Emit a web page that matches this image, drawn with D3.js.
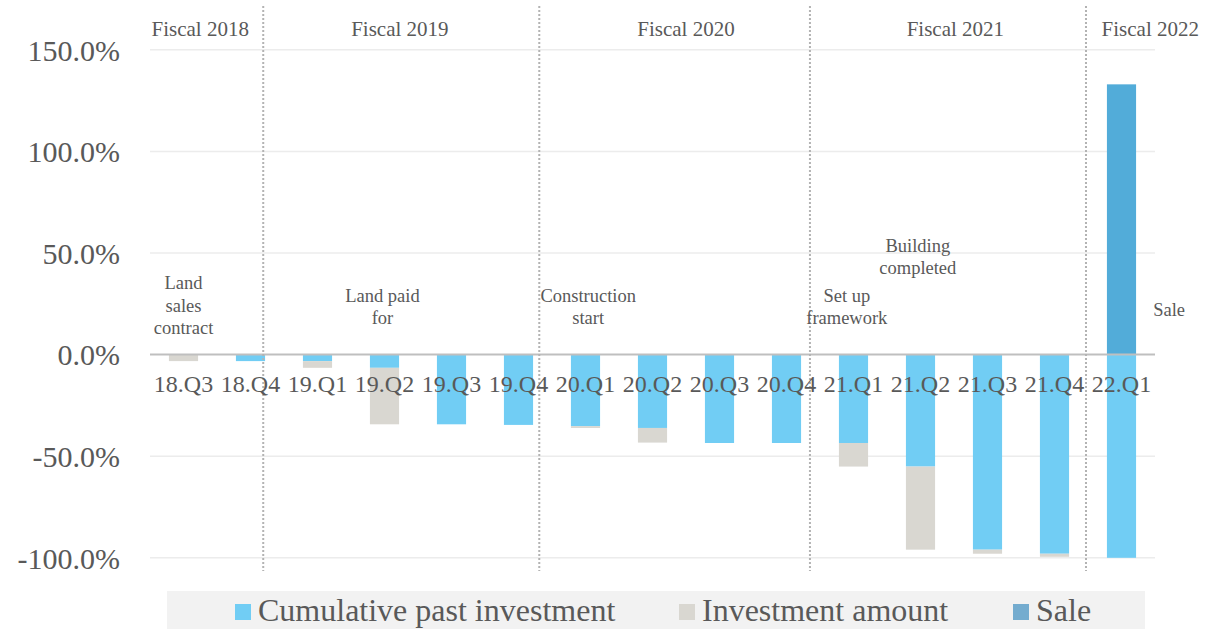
<!DOCTYPE html>
<html>
<head>
<meta charset="utf-8">
<script src="https://cdn.jsdelivr.net/npm/d3@7"></script>
<style>
  body { margin: 0; background: #fff; }
</style>
</head>
<body>
<svg id="chart" width="1217" height="629" font-family="Liberation Serif"></svg>
<script>
// Quarters along the x axis
const quarters = ['18.Q3', '18.Q4', '19.Q1', '19.Q2', '19.Q3', '19.Q4', '20.Q1', '20.Q2',
  '20.Q3', '20.Q4', '21.Q1', '21.Q2', '21.Q3', '21.Q4', '22.Q1'];

// Series values, in percent
const cumulative = [0, -3.2, -3.2, -6.5, -34.3, -34.6, -35.2, -36.1, -43.5, -43.5, -43.5, -55.1, -96.0, -98.0, -100.0];
const investment = [-3.2, 0, -3.3, -27.8, 0, 0, -0.9, -7.2, 0, 0, -11.6, -40.9, -2.0, -1.5, 0];
const sale = [0, 0, 0, 0, 0, 0, 0, 0, 0, 0, 0, 0, 0, 0, 133];

const yTicks = [-100, -50, 0, 50, 100, 150];

// Fiscal year labels and separators (position in quarter index units)
const fiscalLabels = [
  { text: 'Fiscal 2018', pos: 0.75 },
  { text: 'Fiscal 2019', pos: 3.73 },
  { text: 'Fiscal 2020', pos: 8.0 },
  { text: 'Fiscal 2021', pos: 12.02 },
  { text: 'Fiscal 2022', pos: 14.93 },
];
const separators = [1.69, 5.81, 9.85, 13.97];

// Milestone notes (pos in quarter index units, value in percent for the first line)
const notes = [
  { lines: ['Land', 'sales', 'contract'], pos: 0.5, value: 35 },
  { lines: ['Land paid', 'for'], pos: 3.47, value: 29 },
  { lines: ['Construction', 'start'], pos: 6.54, value: 29 },
  { lines: ['Set up', 'framework'], pos: 10.4, value: 29 },
  { lines: ['Building', 'completed'], pos: 11.46, value: 53.5 },
  { lines: ['Sale'], pos: 15.21, value: 22 },
];

const legendItems = [
  { name: 'Cumulative past investment', color: '#71cdf4' },
  { name: 'Investment amount', color: '#d9d7d1' },
  { name: 'Sale', color: '#74accf' },
];

const colors = { cumulative: '#71cdf4', investment: '#d9d7d1', sale: '#52acd9' };
const textColor = '#595959';

const svg = d3.select('#chart');
const left = 150, right = 1155;

const x = d3.scaleBand().domain(quarters).range([left, right]).paddingInner(0.565).paddingOuter(0.2825);
const xi = d3.scaleLinear().domain([0, quarters.length]).range([left, right]);
const y = d3.scaleLinear().domain([-100, 150]).range([557.8, 49.8]);

// Gridlines
svg.append('g').selectAll('line').data(yTicks.filter(d => d !== 0)).join('line')
  .attr('x1', left).attr('x2', right)
  .attr('y1', d => y(d)).attr('y2', d => y(d))
  .attr('stroke', '#ececec').attr('stroke-width', 1.5);

// Y axis labels (hyphen minus, as in the original)
const yAxis = d3.axisLeft(y).tickValues(yTicks)
  .tickFormat(d => (d < 0 ? '-' : '') + Math.abs(d).toFixed(1) + '%')
  .tickSize(0).tickPadding(0);
svg.append('g').attr('transform', 'translate(120,0)').call(yAxis)
  .attr('font-family', 'Liberation Serif')
  .call(g => g.select('.domain').remove())
  .call(g => g.selectAll('text')
    .attr('font-size', 30).attr('fill', textColor).attr('dy', '0.34em'));

// Bars
const bars = svg.append('g');
quarters.forEach((q, i) => {
  const c = cumulative[i], v = investment[i];
  if (c !== 0) {
    bars.append('rect').attr('x', x(q)).attr('width', x.bandwidth())
      .attr('y', y(0)).attr('height', y(c) - y(0)).attr('fill', colors.cumulative);
  }
  if (v !== 0) {
    bars.append('rect').attr('x', x(q)).attr('width', x.bandwidth())
      .attr('y', y(c)).attr('height', y(c + v) - y(c)).attr('fill', colors.investment);
  }
  if (sale[i] !== 0) {
    bars.append('rect').attr('x', x(q)).attr('width', x.bandwidth())
      .attr('y', y(sale[i])).attr('height', y(0) - y(sale[i])).attr('fill', colors.sale);
  }
});

// Zero line
svg.append('line').attr('x1', left).attr('x2', right)
  .attr('y1', y(0)).attr('y2', y(0))
  .attr('stroke', '#bfbfbf').attr('stroke-width', 2);

// Fiscal separators
svg.append('g').selectAll('line').data(separators).join('line')
  .attr('x1', d => xi(d)).attr('x2', d => xi(d))
  .attr('y1', 6).attr('y2', 571)
  .attr('stroke', '#b3b3b3').attr('stroke-width', 2).attr('stroke-dasharray', '2,2');

// Category labels (drawn over the bars)
const xAxis = d3.axisBottom(x).tickSize(0).tickPadding(0);
svg.append('g').attr('transform', `translate(0,${y(0)})`).call(xAxis)
  .attr('font-family', 'Liberation Serif')
  .call(g => g.select('.domain').remove())
  .call(g => g.selectAll('text')
    .attr('font-size', 24).attr('fill', textColor).attr('y', 37).attr('dy', 0));

// Fiscal year labels
svg.append('g').selectAll('text').data(fiscalLabels).join('text')
  .attr('x', d => xi(d.pos)).attr('y', 36)
  .attr('text-anchor', 'middle').attr('font-size', 21).attr('fill', textColor)
  .text(d => d.text);

// Milestone notes
notes.forEach(n => {
  const t = svg.append('text').attr('text-anchor', 'middle')
    .attr('font-size', 18.5).attr('fill', textColor);
  n.lines.forEach((line, k) => {
    t.append('tspan').attr('x', xi(n.pos)).attr('y', y(n.value) + 6 + k * 22.5).text(line);
  });
});

// Legend
svg.append('rect').attr('x', 167).attr('y', 591).attr('width', 978).attr('height', 38).attr('fill', '#f2f2f2');
const legendX = [235, 679, 1013];
const lg = svg.append('g').selectAll('g').data(legendItems).join('g')
  .attr('transform', (d, i) => `translate(${legendX[i]},604)`);
lg.append('rect').attr('width', 16).attr('height', 16).attr('fill', d => d.color);
lg.append('text').attr('x', 23).attr('y', 17).attr('font-size', 32).attr('fill', textColor)
  .text(d => d.name);
</script>
</body>
</html>
